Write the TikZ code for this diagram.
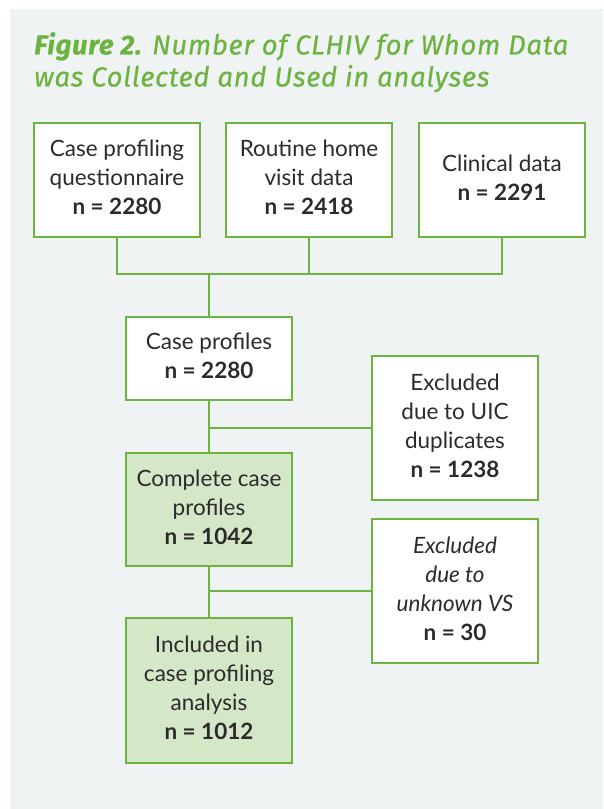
\documentclass[tikz,border=0pt]{standalone}
\usepackage{fontspec}
\setmainfont{Lato}
\newfontfamily\headfont[LetterSpace=2.5,FakeBold=0.4]{Fira Sans}
\usetikzlibrary{calc,positioning}
\definecolor{leaf}{HTML}{6DB33F}
\definecolor{pale}{HTML}{D4E7C6}
\definecolor{panel}{HTML}{EFF3F4}
\definecolor{ink}{HTML}{2D2A2B}
\tikzset{
   source/.style={ rectangle, draw=leaf, line width=1.8pt, fill=white, text=ink, minimum width=166pt, text centered, inner sep=0pt},
   kept/.style={ source, fill=pale},
   link/.style={ draw=leaf, line width=1.8pt},
}
\newcommand{\boxfont}{\fontsize{22.5}{29}\selectfont}

\begin{document}
\begin{tikzpicture}[x=1pt,y=-1pt]
  \useasboundingbox (0,0) rectangle (603,809);
  \fill[panel] (10,9) rectangle (603,809);

  \node[anchor=north west, text=leaf, align=left, inner sep=0pt, font=\headfont\fontsize{27.5}{32}\selectfont\itshape] at (34,32) (title)
     {\textbf{Figure 2.} Number of CLHIV for Whom Data\\was Collected and Used in analyses};

  \node[source, minimum height=114pt] at (117,180) (questionnaire) {\boxfont\begin{tabular}{@{}c@{}}Case profiling\\questionnaire\\\textbf{n = 2280}\end{tabular}};
  \node[source, minimum height=114pt] at (309,180) (home visit)    {\boxfont\begin{tabular}{@{}c@{}}Routine home\\visit data\\\textbf{n = 2418}\end{tabular}};
  \node[source, minimum height=114pt] at (502,180) (clinical)      {\boxfont\begin{tabular}{@{}c@{}}Clinical data\\\textbf{n = 2291}\end{tabular}};

  \coordinate (join) at (209,274);

  \node[source, minimum height=83pt]  at (209,358.5) (profiles)   {\boxfont\begin{tabular}{@{}c@{}}Case profiles\\\textbf{n = 2280}\end{tabular}};
  \node[source, minimum height=144pt] at (455,428)   (duplicates) {\boxfont\begin{tabular}{@{}c@{}}Excluded\\due to UIC\\duplicates\\\textbf{n = 1238}\end{tabular}};
  \node[kept, minimum height=113pt]   at (209,509.5) (complete)   {\boxfont\begin{tabular}{@{}c@{}}Complete case\\profiles\\\textbf{n = 1042}\end{tabular}};
  \node[source, minimum height=144pt] at (455,591)   (unknown vs) {\boxfont\begin{tabular}{@{}c@{}}\textit{Excluded}\\\textit{due to}\\\textit{unknown VS}\\\textbf{n = 30}\end{tabular}};
  \node[kept, minimum height=145pt]   at (209,690.5) (included)   {\boxfont\begin{tabular}{@{}c@{}}Included in\\case profiling\\analysis\\\textbf{n = 1012}\end{tabular}};

  \draw[link] (questionnaire.south) |- (join);
  \draw[link] (clinical.south) |- (join);
  \draw[link] (home visit.south) -- (home visit.south |- join);
  \draw[link] (join) -- (profiles.north);

  \draw[link] (profiles) -- (complete);
  \draw[link] (duplicates.west) -- (duplicates.west -| profiles);

  \draw[link] (complete) -- (included);
  \draw[link] (unknown vs.west) -- (unknown vs.west -| complete);

\end{tikzpicture}
\end{document}
